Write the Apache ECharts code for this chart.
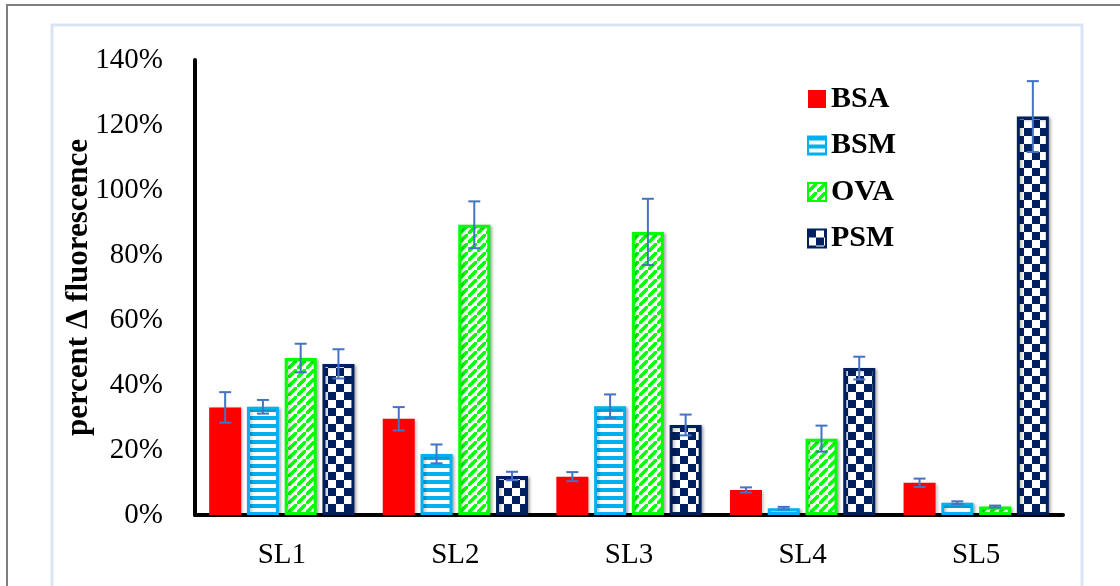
<!DOCTYPE html>
<html>
<head>
<meta charset="utf-8">
<script src="https://cdn.jsdelivr.net/npm/echarts@6/dist/echarts.min.js"></script>
<style>
  html, body { margin: 0; padding: 0; background: #fff; }
  #chart { width: 1120px; height: 586px; }
</style>
</head>
<body>
<div id="chart"></div>
<script>
// Categories and values (percent change in fluorescence) with standard errors
const categories = ['SL1', 'SL2', 'SL3', 'SL4', 'SL5'];
const seriesNames = ['BSA', 'BSM', 'OVA', 'PSM'];
const bsaValues = [33.1, 29.6, 11.8, 7.7, 9.9];
const bsaErrors = [4.7, 3.6, 1.4, 0.8, 1.3];
const bsmValues = [33.3, 18.8, 33.5, 2.1, 3.8];
const bsmErrors = [2.1, 2.9, 3.6, 0.4, 0.4];
const ovaValues = [48.3, 89.3, 87.1, 23.5, 2.6];
const ovaErrors = [4.4, 7.2, 10.2, 4.0, 0.3];
const psmValues = [46.5, 12.0, 27.7, 45.2, 122.6];
const psmErrors = [4.5, 1.3, 3.2, 3.5, 10.9];
const yTicks = [0, 20, 40, 60, 80, 100, 120, 140];

const FONT = '"Liberation Serif", "Times New Roman", serif';
const BAR_W = 32;
const BAR_GAP_PCT = 18;
const STEP = BAR_W * (1 + BAR_GAP_PCT / 100);

// Fill patterns
function makeTile(w, h, draw) {
  const c = document.createElement('canvas');
  c.width = w; c.height = h;
  const ctx = c.getContext('2d');
  ctx.fillStyle = '#ffffff';
  ctx.fillRect(0, 0, w, h);
  draw(ctx);
  return c;
}
const stripeTile = makeTile(8, 8, ctx => {
  ctx.fillStyle = '#00B0F0';
  ctx.fillRect(0, 0, 8, 4);
});
const D = 9;
const diagTile = makeTile(D, D, ctx => {
  ctx.strokeStyle = '#00FF00';
  ctx.lineWidth = 3.5;
  ctx.beginPath();
  ctx.moveTo(-2, D + 2); ctx.lineTo(D + 2, -2);
  ctx.moveTo(-D - 2, 2); ctx.lineTo(2, -D - 2);
  ctx.moveTo(D - 2, 2 * D + 2); ctx.lineTo(2 * D + 2, D - 2);
  ctx.stroke();
});
const checkTile = makeTile(16, 16, ctx => {
  ctx.fillStyle = '#002060';
  ctx.fillRect(0, 0, 8, 8);
  ctx.fillRect(8, 8, 8, 8);
});

const values = [bsaValues, bsmValues, ovaValues, psmValues];
const errors = [bsaErrors, bsmErrors, ovaErrors, psmErrors];
const styles = [
  { color: '#FF0000' },
  { color: { image: stripeTile, repeat: 'repeat' }, borderColor: '#00B0F0', borderWidth: 3 },
  { color: { image: diagTile, repeat: 'repeat' }, borderColor: '#00FF00', borderWidth: 3 },
  { color: { image: checkTile, repeat: 'repeat' }, borderColor: '#002060', borderWidth: 3 }
];

const shadow = { shadowColor: 'rgba(0,0,0,0.25)', shadowBlur: 3, shadowOffsetX: 2, shadowOffsetY: 1 };

const barSeries = seriesNames.map((name, i) => ({
  name: name,
  type: 'bar',
  barWidth: BAR_W,
  barGap: BAR_GAP_PCT + '%',
  itemStyle: Object.assign({}, styles[i], shadow),
  emphasis: { disabled: true },
  data: values[i]
}));

// Error bars drawn next to each bar of the group
const errorSeries = seriesNames.map((name, i) => ({
  type: 'custom',
  name: name + ' error',
  z: 5,
  silent: true,
  data: values[i].map((v, k) => [k, v, errors[i][k]]),
  encode: { x: 0, y: 1 },
  renderItem: function (params, api) {
    const k = api.value(0);
    const v = api.value(1);
    const e = api.value(2);
    const top = api.coord([k, v + e]);
    const bot = api.coord([k, v - e]);
    const x = top[0] + (i - 1.5) * STEP;
    const cap = 6;
    const st = { stroke: '#4472C4', lineWidth: 2 };
    return {
      type: 'group',
      children: [
        { type: 'line', shape: { x1: x, y1: top[1], x2: x, y2: bot[1] }, style: st },
        { type: 'line', shape: { x1: x - cap, y1: top[1], x2: x + cap, y2: top[1] }, style: st },
        { type: 'line', shape: { x1: x - cap, y1: bot[1], x2: x + cap, y2: bot[1] }, style: st }
      ]
    };
  }
}));

const chart = echarts.init(document.getElementById('chart'), null, { renderer: 'canvas' });
chart.setOption({
  animation: false,
  backgroundColor: '#ffffff',
  textStyle: { fontFamily: FONT },
  graphic: [
    { type: 'rect', z: -10, shape: { x: 7, y: 5, width: 1200, height: 700 },
      style: { fill: 'none', stroke: '#7f7f7f', lineWidth: 2 } },
    { type: 'rect', z: -10, shape: { x: 52, y: 25, width: 1030, height: 700 },
      style: { fill: 'none', stroke: '#D9E4F5', lineWidth: 3 } }
  ],
  grid: { left: 195, right: 57, top: 60, bottom: 71, containLabel: false },
  legend: {
    orient: 'vertical',
    left: 807,
    top: 84,
    padding: 0,
    itemWidth: 18,
    itemHeight: 18,
    itemGap: 16.5,
    icon: 'rect',
    data: seriesNames,
    selectedMode: false,
    textStyle: { fontFamily: FONT, fontSize: 30, fontWeight: 'bold', color: '#000', lineHeight: 30 }
  },
  xAxis: {
    type: 'category',
    data: categories,
    axisLine: { lineStyle: { color: '#000', width: 4 } },
    axisTick: { show: false },
    axisLabel: { fontFamily: FONT, fontSize: 29, color: '#000', margin: 26 },
    splitLine: { show: false }
  },
  yAxis: {
    type: 'value',
    min: yTicks[0],
    max: yTicks[yTicks.length - 1],
    interval: 20,
    name: 'percent \u0394 fluorescence',
    nameLocation: 'middle',
    nameRotate: 90,
    nameGap: 101,
    nameMoveOverlap: false,
    nameTextStyle: { fontFamily: FONT, fontSize: 31, fontWeight: 'bold', color: '#000' },
    axisLine: { show: true, lineStyle: { color: '#000', width: 4 } },
    axisTick: { show: false },
    axisLabel: { fontFamily: FONT, fontSize: 29, color: '#000', margin: 32, formatter: '{value}%' },
    splitLine: { show: false }
  },
  series: barSeries.concat(errorSeries)
});
</script>
</body>
</html>
